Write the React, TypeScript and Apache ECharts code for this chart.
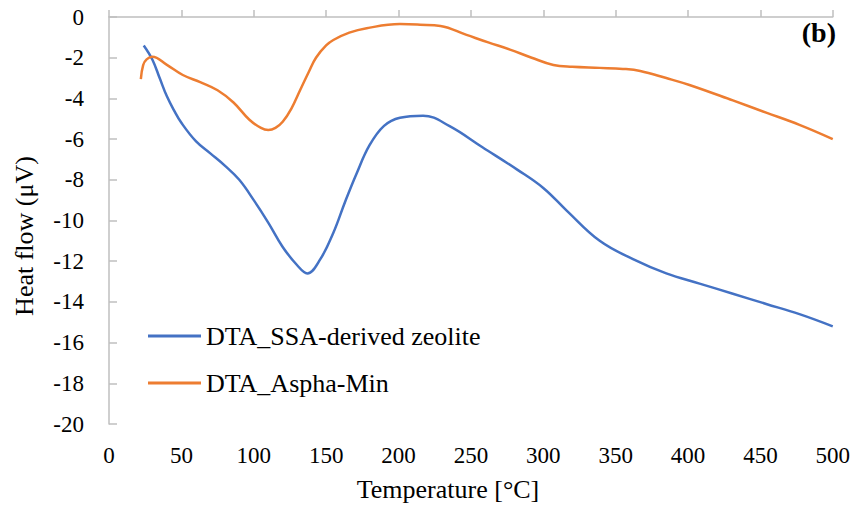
import React, { useEffect, useRef } from "react";
import * as echarts from "echarts";

const xTicks = { min: 0, max: 500, interval: 50 };
const yTicks = { min: -20, max: 0, interval: 2 };

const seriesNames = ["DTA_SSA-derived zeolite", "DTA_Aspha-Min"];

const blueX = [24, 30, 35, 40, 45, 50, 60, 70, 80, 90, 100, 110, 120, 130, 137, 146, 155, 163, 171, 180, 190, 201, 217, 235, 258, 282, 300, 316, 339, 362, 385, 408, 431, 454, 477, 500];
const blueY = [-1.4, -2.1, -3.0, -3.9, -4.6, -5.2, -6.1, -6.7, -7.3, -8.0, -9.0, -10.1, -11.3, -12.2, -12.6, -11.9, -10.6, -9.1, -7.7, -6.3, -5.35, -4.95, -4.85, -5.35, -6.4, -7.5, -8.4, -9.5, -11.0, -11.9, -12.6, -13.1, -13.6, -14.1, -14.6, -15.2];

const orangeX = [22, 23.6, 26, 30, 40, 51, 63, 75, 86, 97, 105, 110, 115, 120, 126, 132, 138, 143, 150, 155, 166, 178, 201, 215, 229, 247, 262, 277, 292, 307, 320, 339, 355, 367, 385, 401, 431, 454, 477, 500];
const orangeY = [-3.05, -2.36, -2.08, -1.95, -2.35, -2.85, -3.2, -3.6, -4.2, -5.05, -5.45, -5.55, -5.45, -5.15, -4.5, -3.6, -2.7, -2.0, -1.4, -1.13, -0.77, -0.55, -0.35, -0.38, -0.44, -0.88, -1.25, -1.6, -2.0, -2.36, -2.45, -2.5, -2.55, -2.65, -3.0, -3.34, -4.1, -4.7, -5.3, -6.0];

const colors = ["#4472C4", "#ED7D31"];
const FONT = '"Liberation Serif", "Times New Roman", serif';

export default function App() {
  const ref = useRef<HTMLDivElement>(null);
  useEffect(() => {
    if (!ref.current) return;
    const chart = echarts.init(ref.current, undefined, { renderer: "svg" });
    const pair = (xs: number[], ys: number[]) => xs.map((x, i) => [x, ys[i]]);
    const legendText = { fontFamily: FONT, fontSize: 26, color: "#000" };
    chart.setOption({
      animation: false,
      backgroundColor: "#fff",
      textStyle: { fontFamily: FONT },
      grid: { left: 109, right: 20, top: 17, bottom: 82 },
      xAxis: {
        type: "value",
        min: xTicks.min,
        max: xTicks.max,
        interval: xTicks.interval,
        axisLine: { show: true, lineStyle: { color: "#bfbfbf", width: 1.5 } },
        axisTick: { show: true, inside: true, length: 7, lineStyle: { color: "#bfbfbf", width: 1.5 } },
        splitLine: { show: false },
        axisLabel: { fontFamily: FONT, fontSize: 23, color: "#000", margin: 20 },
      },
      yAxis: {
        type: "value",
        min: yTicks.min,
        max: yTicks.max,
        interval: yTicks.interval,
        axisLine: { show: true, lineStyle: { color: "#bfbfbf", width: 1.5 } },
        axisTick: { show: true, inside: true, length: 8, lineStyle: { color: "#bfbfbf", width: 1.5 } },
        splitLine: { show: false },
        axisLabel: { fontFamily: FONT, fontSize: 23, color: "#000", margin: 25 },
      },
      legend: [
        {
          data: [seriesNames[0]],
          left: 143,
          top: 318,
          icon: "rect",
          itemWidth: 53,
          itemHeight: 3,
          textStyle: legendText,
        },
        {
          data: [seriesNames[1]],
          left: 143,
          top: 365,
          icon: "rect",
          itemWidth: 53,
          itemHeight: 3,
          textStyle: legendText,
        },
      ],
      graphic: [
        {
          type: "text",
          x: 24,
          y: 236,
          rotation: Math.PI / 2,
          style: {
            text: "Heat flow (μV)",
            fontFamily: FONT,
            fontSize: 26,
            fill: "#000",
            align: "center",
            verticalAlign: "middle",
          },
        },
        {
          type: "text",
          x: 448,
          y: 489,
          style: {
            text: "Temperature [°C]",
            fontFamily: FONT,
            fontSize: 26,
            fill: "#000",
            align: "center",
            verticalAlign: "middle",
          },
        },
        {
          type: "text",
          x: 836,
          y: 32,
          style: {
            text: "(b)",
            fontFamily: FONT,
            fontSize: 28,
            fontWeight: "bold",
            fill: "#000",
            align: "right",
            verticalAlign: "middle",
          },
        },
      ],
      series: [
        {
          name: seriesNames[0],
          type: "line",
          data: pair(blueX, blueY),
          smooth: 0.4,
          showSymbol: false,
          lineStyle: { color: colors[0], width: 2.5 },
          itemStyle: { color: colors[0] },
        },
        {
          name: seriesNames[1],
          type: "line",
          data: pair(orangeX, orangeY),
          smooth: 0.4,
          showSymbol: false,
          lineStyle: { color: colors[1], width: 2.5 },
          itemStyle: { color: colors[1] },
        },
      ],
    });
    return () => chart.dispose();
  }, []);
  return (
    <div
      ref={ref}
      style={{ position: "fixed", left: 0, top: 0, width: 853, height: 506 }}
    />
  );
}
